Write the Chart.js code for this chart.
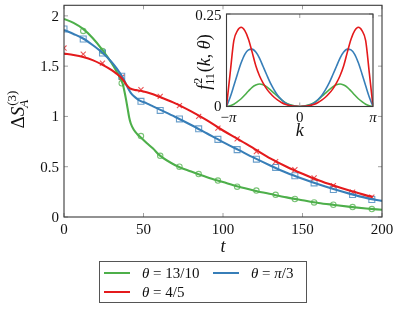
<!DOCTYPE html>
<html>
<head>
<meta charset="utf-8">
<script src="https://cdn.jsdelivr.net/npm/chart.js@4.4.1/dist/chart.umd.min.js"></script>
<style>
  body { margin: 0; background: #fff; }
  #wrap { position: relative; width: 408px; height: 317px; }
  #mainChart { position: absolute; left: 0; top: 0; }
  #insetChart { position: absolute; left: 180px; top: 0; }
</style>
</head>
<body>
<div id="wrap">
  <canvas id="mainChart" width="408" height="317"></canvas>
  <canvas id="insetChart" width="210" height="145"></canvas>
</div>
<script>
// numerical points (markers)
var tMarks = [0, 12.1, 24.2, 36.3, 48.4, 60.5, 72.6, 84.7, 96.8, 108.9, 121, 133.1, 145.2, 157.3, 169.4, 181.5, 193.6];
var greenMarks = [null, 1.85, 1.65, 1.33, 0.805, 0.608, 0.50, 0.427, 0.362, 0.302, 0.263, 0.22, 0.179, 0.145, 0.122, 0.099, 0.079];
var blueMarks = [1.87, 1.77, 1.63, 1.40, 1.15, 1.06, 0.975, 0.877, 0.772, 0.67, 0.575, 0.493, 0.41, 0.339, 0.273, 0.224, 0.174];
var redMarks = [1.68, 1.62, 1.53, 1.39, 1.265, 1.20, 1.107, 1.00, 0.884, 0.777, 0.65, 0.55, 0.47, 0.388, 0.312, 0.246, 0.197];

// solid curves
var tLine = [0, 6, 12, 18, 24, 30, 33, 36, 37, 38, 39, 40, 41, 42, 44, 46, 48, 52, 56, 60, 70, 80, 90, 100, 110, 120, 130, 140, 150, 160, 170, 180, 190, 200];
var greenLine = [1.97, 1.93, 1.87, 1.78, 1.665, 1.53, 1.45, 1.36, 1.32, 1.25, 1.17, 1.08, 0.99, 0.93, 0.865, 0.825, 0.795, 0.735, 0.68, 0.615, 0.515, 0.452, 0.395, 0.347, 0.300, 0.262, 0.228, 0.195, 0.167, 0.14, 0.12, 0.101, 0.085, 0.072];
var blueLine = [1.86, 1.82, 1.775, 1.71, 1.635, 1.54, 1.48, 1.41, 1.385, 1.355, 1.32, 1.29, 1.26, 1.235, 1.2, 1.175, 1.155, 1.13, 1.10, 1.07, 0.995, 0.915, 0.83, 0.745, 0.665, 0.585, 0.51, 0.44, 0.38, 0.325, 0.275, 0.23, 0.19, 0.16];
var tRedLine = [0, 6, 12, 18, 24, 30, 33, 36, 37, 38, 39, 40, 41, 42, 44, 46, 48, 52, 56, 60, 70, 80, 90, 100, 110, 120, 130, 140, 150, 160, 170, 180, 190, 194];
var redLine = [1.625, 1.61, 1.59, 1.56, 1.515, 1.46, 1.425, 1.385, 1.365, 1.345, 1.32, 1.30, 1.285, 1.275, 1.265, 1.26, 1.255, 1.24, 1.22, 1.195, 1.13, 1.05, 0.96, 0.86, 0.77, 0.675, 0.58, 0.50, 0.43, 0.365, 0.31, 0.26, 0.215, 0.20];

// inset: k in units of pi
var kInset = [-1, -0.95, -0.9, -0.85, -0.8, -0.75, -0.7, -0.65, -0.6, -0.55, -0.5, -0.45, -0.4, -0.35, -0.3, -0.25, -0.2, -0.15, -0.1, -0.05, 0,
  0.05, 0.1, 0.15, 0.2, 0.25, 0.3, 0.35, 0.4, 0.45, 0.5, 0.55, 0.6, 0.65, 0.7, 0.75, 0.8, 0.85, 0.9, 0.95, 1];
var redInset = [0, 0.09, 0.178, 0.205, 0.214, 0.205, 0.182, 0.147, 0.110, 0.083, 0.063, 0.047, 0.035, 0.025, 0.017, 0.011, 0.006, 0.003, 0.0015, 0.0003, 0,
  0.0003, 0.0015, 0.003, 0.006, 0.011, 0.017, 0.025, 0.035, 0.047, 0.063, 0.083, 0.110, 0.147, 0.182, 0.205, 0.214, 0.205, 0.178, 0.09, 0];
var blueInset = [0, 0.025, 0.056, 0.088, 0.118, 0.141, 0.153, 0.155, 0.147, 0.131, 0.108, 0.085, 0.063, 0.045, 0.030, 0.019, 0.010, 0.005, 0.002, 0.0005, 0,
  0.0005, 0.002, 0.005, 0.010, 0.019, 0.030, 0.045, 0.063, 0.085, 0.108, 0.131, 0.147, 0.155, 0.153, 0.141, 0.118, 0.088, 0.056, 0.025, 0];
var greenInset = [0, 0.002, 0.006, 0.013, 0.021, 0.031, 0.042, 0.052, 0.058, 0.061, 0.059, 0.053, 0.045, 0.036, 0.027, 0.018, 0.011, 0.006, 0.003, 0.001, 0,
  0.001, 0.003, 0.006, 0.011, 0.018, 0.027, 0.036, 0.045, 0.053, 0.059, 0.061, 0.058, 0.052, 0.042, 0.031, 0.021, 0.013, 0.006, 0.002, 0];

// ticks and labels
var xTicks = [0, 50, 100, 150, 200];
var yTicks = [0, 0.5, 1, 1.5, 2];
var yTickLabels = ["0", "0.5", "1", "1.5", "2"];
var insetXTicks = [-1, 0, 1];
var insetXLabels = ["\u2212\u03c0", "0", "\u03c0"];
var insetYTicks = [0, 0.25];
var insetYLabels = ["0", "0.25"];
var legendLabels = ["\u03b8 = 13/10", "\u03b8 = \u03c0/3", "\u03b8 = 4/5"];

var green = "#4daf4a", blue = "#377eb8", red = "#e41a1c";
var serif = "'Liberation Serif', 'DejaVu Serif', serif";

function pts(xs, ys) {
  var out = [];
  for (var i = 0; i < xs.length; i++) {
    if (ys[i] !== null) out.push({ x: xs[i], y: ys[i] });
  }
  return out;
}

// letters in italic (math style), everything else upright
function runs(str) {
  var out = [];
  for (var ch of str) {
    var it = /[A-Za-z\u03b1-\u03c9]/.test(ch);
    if (out.length && out[out.length - 1].it === it) out[out.length - 1].s += ch;
    else out.push({ s: ch, it: it });
  }
  return out;
}
function font(size, it) { return (it ? "italic " : "") + size + "px " + serif; }
function textWidth(ctx, str, size) {
  var w = 0;
  runs(str).forEach(function (r) { ctx.font = font(size, r.it); w += ctx.measureText(r.s).width; });
  return w;
}
function drawMath(ctx, str, x, y, size, align) {
  var w = textWidth(ctx, str, size);
  var cx = align === "center" ? x - w / 2 : align === "right" ? x - w : x;
  ctx.textAlign = "left";
  ctx.textBaseline = "alphabetic";
  runs(str).forEach(function (r) {
    ctx.font = font(size, r.it);
    ctx.fillText(r.s, cx, y);
    cx += ctx.measureText(r.s).width;
  });
  return cx;
}

function frame(ctx, a, xs, ys) {
  ctx.save();
  ctx.strokeStyle = "#a0a0a0";
  ctx.lineWidth = 1;
  ctx.beginPath();
  xs.forEach(function (x) {
    ctx.moveTo(x, a.bottom); ctx.lineTo(x, a.bottom - 4);
    ctx.moveTo(x, a.top); ctx.lineTo(x, a.top + 4);
  });
  ys.forEach(function (y) {
    ctx.moveTo(a.left, y); ctx.lineTo(a.left + 4, y);
    ctx.moveTo(a.right, y); ctx.lineTo(a.right - 4, y);
  });
  ctx.stroke();
  ctx.strokeStyle = "#3a3a3a";
  ctx.lineWidth = 1.1;
  ctx.strokeRect(a.left, a.top, a.right - a.left, a.bottom - a.top);
  ctx.restore();
}

var mainDecor = {
  id: "mainDecor",
  afterDraw: function (chart) {
    var ctx = chart.ctx, a = chart.chartArea;
    var sx = chart.scales.x, sy = chart.scales.y;
    var xs = xTicks.map(function (v) { return sx.getPixelForValue(v); });
    var ys = yTicks.map(function (v) { return sy.getPixelForValue(v); });
    frame(ctx, a, xs, ys);
    ctx.save();
    ctx.fillStyle = "#111";
    xTicks.forEach(function (v, i) { drawMath(ctx, String(v), xs[i], a.bottom + 17, 15, "center"); });
    yTicks.forEach(function (v, i) { drawMath(ctx, yTickLabels[i], a.left - 5, ys[i] + 5, 15, "right"); });
    drawMath(ctx, "t", (a.left + a.right) / 2, 252, 18, "center");

    // y title: Delta S_A^(3)
    ctx.translate(24, 110);
    ctx.rotate(-Math.PI / 2);
    var wMain = textWidth(ctx, "\u0394S", 19);
    var wSup = textWidth(ctx, "(3)", 13);
    var x0 = -(wMain + wSup) / 2;
    var x1 = drawMath(ctx, "\u0394S", x0, 0, 19, "left");
    drawMath(ctx, "(3)", x1 + 1, -8, 13, "left");
    drawMath(ctx, "A", x1 - 1, 4, 13, "left");
    ctx.restore();

    // legend
    ctx.save();
    ctx.strokeStyle = "#555";
    ctx.lineWidth = 1;
    ctx.strokeRect(99.5, 261.5, 207, 41);
    var items = [
      { c: green, x: 104, y: 273, label: legendLabels[0] },
      { c: blue, x: 213, y: 273, label: legendLabels[1] },
      { c: red, x: 104, y: 292, label: legendLabels[2] }
    ];
    items.forEach(function (it) {
      ctx.strokeStyle = it.c;
      ctx.lineWidth = 2;
      ctx.beginPath();
      ctx.moveTo(it.x, it.y); ctx.lineTo(it.x + 26, it.y);
      ctx.stroke();
      ctx.fillStyle = "#111";
      drawMath(ctx, it.label, it.x + 38, it.y + 5, 15, "left");
    });
    ctx.restore();
  }
};

var insetDecor = {
  id: "insetDecor",
  afterDraw: function (chart) {
    var ctx = chart.ctx, a = chart.chartArea;
    var sx = chart.scales.x, sy = chart.scales.y;
    var xs = insetXTicks.map(function (v) { return sx.getPixelForValue(v); });
    var ys = insetYTicks.map(function (v) { return sy.getPixelForValue(v); });
    frame(ctx, a, xs, ys);
    ctx.save();
    ctx.fillStyle = "#111";
    insetXTicks.forEach(function (v, i) { drawMath(ctx, insetXLabels[i], xs[i] + (i === 0 ? 2 : 0), a.bottom + 15, 15, "center"); });
    insetYTicks.forEach(function (v, i) { drawMath(ctx, insetYLabels[i], a.left - 5, ys[i] + (i === 0 ? 4 : 6), 15, "right"); });
    drawMath(ctx, "k", (a.left + a.right) / 2, 136, 18, "center");

    // y title: f^2_11(k, theta)
    ctx.translate(30, 62);
    ctx.rotate(-Math.PI / 2);
    var w = textWidth(ctx, "f", 18) + textWidth(ctx, "11", 12) + 1 + textWidth(ctx, "(k, \u03b8)", 18);
    var x0 = -w / 2;
    var x1 = drawMath(ctx, "f", x0, 0, 18, "left");
    drawMath(ctx, "2", x1 + 1, -8, 12, "left");
    var x2 = drawMath(ctx, "11", x1, 4, 12, "left");
    drawMath(ctx, "(k, \u03b8)", x2 + 1, 0, 18, "left");
    ctx.restore();
  }
};

function lineSet(label, xs, ys, color, order, width) {
  return {
    label: label, data: pts(xs, ys), borderColor: color, borderWidth: width,
    pointRadius: 0, fill: false, cubicInterpolationMode: "monotone", order: order
  };
}
function markSet(label, xs, ys, color, style, r, order) {
  return {
    label: label, data: pts(xs, ys), showLine: false, pointStyle: style, pointRadius: r,
    pointBorderColor: color, pointBackgroundColor: "rgba(0,0,0,0)", pointBorderWidth: 1.1, order: order
  };
}

new Chart(document.getElementById("mainChart"), {
  type: "line",
  data: {
    datasets: [
      lineSet("red", tRedLine, redLine, red, 1, 2.1),
      lineSet("blue", tLine, blueLine, blue, 2, 2.1),
      lineSet("green", tLine, greenLine, green, 3, 2.1),
      markSet("red pts", tMarks, redMarks, "rgba(228,26,28,0.75)", "crossRot", 3.6, 4),
      markSet("blue pts", tMarks, blueMarks, "rgba(55,126,184,0.75)", "rect", 4.2, 5),
      markSet("green pts", tMarks, greenMarks, "rgba(77,175,74,0.75)", "circle", 2.7, 6)
    ]
  },
  options: {
    responsive: false,
    animation: false,
    events: [],
    layout: { padding: { left: 64, right: 26, top: 3, bottom: 100 } },
    plugins: { legend: { display: false }, tooltip: { enabled: false } },
    scales: {
      x: { type: "linear", display: false, min: 0, max: 200 },
      y: { type: "linear", display: false, min: 0, max: 2.105 }
    }
  },
  plugins: [mainDecor]
});

new Chart(document.getElementById("insetChart"), {
  type: "line",
  data: {
    datasets: [
      lineSet("red", kInset, redInset, red, 1, 1.6),
      lineSet("blue", kInset, blueInset, blue, 2, 1.6),
      lineSet("green", kInset, greenInset, green, 3, 1.6)
    ]
  },
  options: {
    responsive: false,
    animation: false,
    events: [],
    layout: { padding: { left: 46.5, right: 17, top: 14, bottom: 38.5 } },
    plugins: { legend: { display: false }, tooltip: { enabled: false } },
    scales: {
      x: { type: "linear", display: false, min: -1, max: 1 },
      y: { type: "linear", display: false, min: 0, max: 0.25 }
    }
  },
  plugins: [insetDecor]
});
</script>
</body>
</html>
